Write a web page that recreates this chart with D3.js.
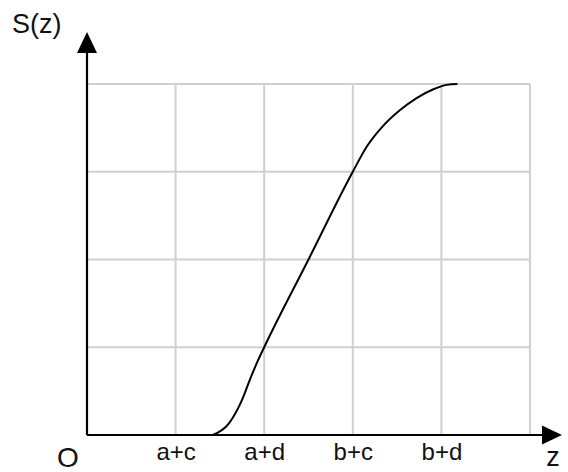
<!DOCTYPE html>
<html>
<head>
<meta charset="utf-8">
<script src="https://cdn.jsdelivr.net/npm/d3@7"></script>
<style>
  body { margin: 0; background: #fff; }
  text { font-family: "Liberation Sans", Arial, sans-serif; fill: #111; }
</style>
</head>
<body>
<div id="chart"></div>
<script>
/* DATA */
const tickValues = [1, 2, 3, 4];
const tickLabels = ["a+c", "a+d", "b+c", "b+d"];
const gridX = [1, 2, 3, 4, 5];
const gridY = [1, 2, 3, 4];
// curve points (z and S in grid units)
const curveZ = [1.42, 1.6, 1.75, 1.85, 1.93, 2.0, 2.5, 3.0, 3.16, 3.34, 3.53, 3.72, 3.91, 4.06, 4.18];
const curveS = [0, 0.13, 0.40, 0.66, 0.85, 1.0, 2.0, 3.0, 3.29, 3.52, 3.70, 3.84, 3.94, 3.99, 4.0];

/* CONSTANTS */
const width = 568, height = 472;
const margin = { top: 84, right: 38, bottom: 37, left: 87 };

const svg = d3.select("#chart")
  .append("svg")
  .attr("width", width)
  .attr("height", height);

/* SCALES */
const xScale = d3.scaleLinear()
  .domain([0, 5])
  .range([margin.left, width - margin.right]);

const yScale = d3.scaleLinear()
  .domain([0, 4])
  .range([height - margin.bottom, margin.top]);

/* GRID */
svg.append("g")
  .selectAll("line")
  .data(gridX)
  .join("line")
  .attr("x1", d => xScale(d))
  .attr("x2", d => xScale(d))
  .attr("y1", yScale(0))
  .attr("y2", yScale(4))
  .attr("stroke", "#d0d0d0")
  .attr("stroke-width", 2);

svg.append("g")
  .selectAll("line")
  .data(gridY)
  .join("line")
  .attr("x1", xScale(0))
  .attr("x2", xScale(5))
  .attr("y1", d => yScale(d))
  .attr("y2", d => yScale(d))
  .attr("stroke", "#d0d0d0")
  .attr("stroke-width", 2);

/* TICK LABELS */
const xAxis = svg.append("g")
  .attr("transform", `translate(0,${yScale(0)})`)
  .call(d3.axisBottom(xScale)
    .tickValues(tickValues)
    .tickFormat((d, i) => tickLabels[i])
    .tickSize(0)
    .tickPadding(8));
xAxis.select(".domain").remove();
xAxis.selectAll("text")
  .style("font-size", "24px")
  .style("font-family", "'Liberation Sans', Arial, sans-serif")
  .attr("fill", "#111");

/* AXES WITH ARROWS */
const x0 = xScale(0), y0 = yScale(0);
svg.append("line")
  .attr("x1", x0).attr("x2", 545)
  .attr("y1", y0).attr("y2", y0)
  .attr("stroke", "#000").attr("stroke-width", 2.2);
svg.append("path")
  .attr("d", `M562,${y0} L542,${y0 - 9.5} L542,${y0 + 9.5} Z`)
  .attr("fill", "#000");

svg.append("line")
  .attr("x1", x0).attr("x2", x0)
  .attr("y1", y0).attr("y2", 50)
  .attr("stroke", "#000").attr("stroke-width", 2.2);
svg.append("path")
  .attr("d", `M${x0},32 L${x0 - 10},53 L${x0 + 10},53 Z`)
  .attr("fill", "#000");

/* CURVE */
const curveData = curveZ.map((z, i) => ({ z: z, s: curveS[i] }));
svg.append("path")
  .datum(curveData)
  .attr("fill", "none")
  .attr("stroke", "#000")
  .attr("stroke-width", 2)
  .attr("d", d3.line()
    .x(d => xScale(d.z))
    .y(d => yScale(d.s))
    .curve(d3.curveMonotoneX));

/* LABELS */
svg.append("text")
  .attr("x", 12)
  .attr("y", 33)
  .style("font-size", "27px")
  .text("S(z)");

svg.append("text")
  .attr("x", 68)
  .attr("y", 467)
  .attr("text-anchor", "middle")
  .style("font-size", "28px")
  .text("O");

svg.append("text")
  .attr("x", 553)
  .attr("y", 466)
  .attr("text-anchor", "middle")
  .style("font-size", "27px")
  .text("z");
</script>
</body>
</html>
